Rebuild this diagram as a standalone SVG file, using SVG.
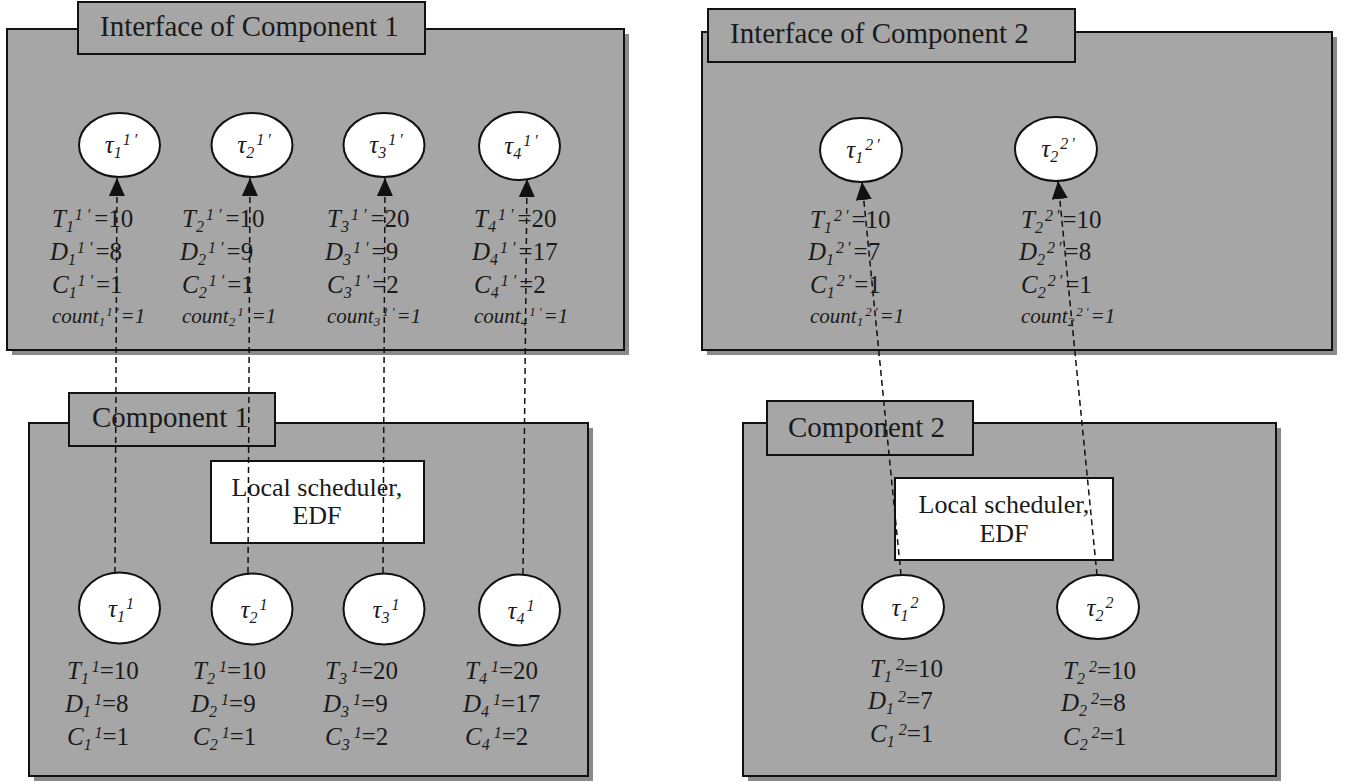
<svg xmlns="http://www.w3.org/2000/svg" width="1350" height="782" viewBox="0 0 1350 782">
<style>
.shadow{fill:#8a8a8a;}
.box{fill:#a6a6a6;stroke:#111;stroke-width:2;}
.tab{fill:#a6a6a6;stroke:#111;stroke-width:2;}
.sched{fill:#fff;stroke:#111;stroke-width:2;}
.task{fill:#fff;stroke:#111;stroke-width:2;}
.title{font-family:"Liberation Serif","Times New Roman",serif;font-size:29px;fill:#1a1a1a;}
.lbl{font-family:"Liberation Serif","Times New Roman",serif;font-size:25px;fill:#1a1a1a;}
.cnt{font-size:21px;font-style:italic;}
.tau{font-family:"Liberation Serif","Times New Roman",serif;font-size:25px;font-style:italic;fill:#1a1a1a;}
.it{font-style:italic;}
.sm{font-size:16px;}
.xs{font-size:13px;}
.sch{font-family:"Liberation Serif","Times New Roman",serif;font-size:26px;fill:#1a1a1a;text-anchor:middle;}
.conn{fill:none;stroke:#111;stroke-width:1.5;stroke-dasharray:6 4;}
</style>
<defs>
<marker id="arr" markerUnits="userSpaceOnUse" markerWidth="18" markerHeight="16" refX="18" refY="8" orient="auto">
<path d="M0,0 L18,8 L0,16 Z" fill="#111"/>
</marker>
</defs>

<!-- Interface of Component 1 -->
<g id="iface1">
<rect class="shadow" x="12" y="34" width="617" height="321"/>
<rect class="box" x="7" y="29" width="617" height="321"/>
<rect class="tab" x="78" y="2" width="347" height="52"/>
<text class="title" x="100" y="36">Interface of Component 1</text>
</g>

<!-- Interface of Component 2 -->
<g id="iface2">
<rect class="shadow" x="707" y="37" width="630" height="318"/>
<rect class="box" x="702" y="32" width="630" height="318"/>
<rect class="tab" x="708" y="9" width="367" height="53"/>
<text class="title" x="730" y="43">Interface of Component 2</text>
</g>

<!-- Component 1 -->
<g id="comp1">
<rect class="shadow" x="34" y="428" width="559" height="353"/>
<rect class="box" x="29" y="423" width="559" height="353"/>
<rect class="tab" x="69" y="393" width="206" height="53"/>
<text class="title" x="92" y="427">Component 1</text>
</g>

<!-- Component 2 -->
<g id="comp2">
<rect class="shadow" x="748" y="428" width="533" height="353"/>
<rect class="box" x="743" y="423" width="533" height="353"/>
<rect class="tab" x="767" y="401" width="206" height="54"/>
<text class="title" x="788" y="437">Component 2</text>
</g>

<g id="sched1">
<rect class="sched" x="211" y="461" width="213" height="82"/>
<text class="sch" x="317" y="496">Local scheduler,</text>
<text class="sch" x="317" y="524">EDF</text>
</g>

<g id="sched2">
<rect class="sched" x="895" y="478" width="218" height="82"/>
<text class="sch" x="1004" y="513">Local scheduler,</text>
<text class="sch" x="1004" y="542">EDF</text>
</g>

<!-- Interface 1 tasks -->
<g id="iface1-task1">
<ellipse class="task" cx="119.5" cy="145" rx="40.5" ry="32"/>
<text class="tau" x="121" y="153" text-anchor="middle">τ<tspan class="sm" dy="5">1</tspan><tspan class="sm" dx="2" dy="-13">1</tspan><tspan class="sm" dx="3">′</tspan></text>
<text class="lbl" x="52" y="227"><tspan class="it">T</tspan><tspan class="it sm" dy="5">1</tspan><tspan class="it sm" dx="2" dy="-12">1</tspan><tspan class="it sm" dx="4">′</tspan><tspan dx="4" dy="7">=10</tspan></text>
<text class="lbl" x="50" y="260"><tspan class="it">D</tspan><tspan class="it sm" dy="5">1</tspan><tspan class="it sm" dx="2" dy="-12">1</tspan><tspan class="it sm" dx="4">′</tspan><tspan dx="3" dy="7">=8</tspan></text>
<text class="lbl" x="52" y="293"><tspan class="it">C</tspan><tspan class="it sm" dy="5">1</tspan><tspan class="it sm" dx="2" dy="-12">1</tspan><tspan class="it sm" dx="4">′</tspan><tspan dx="3" dy="7">=1</tspan></text>
<text class="lbl cnt" x="52" y="323">count<tspan class="xs" dy="3">1</tspan><tspan class="xs" dx="2" dy="-10">1</tspan><tspan class="xs" dx="3">′</tspan><tspan dx="2" dy="7">=1</tspan></text>
</g>

<g id="iface1-task2">
<ellipse class="task" cx="252" cy="145" rx="40.5" ry="32"/>
<text class="tau" x="254" y="153" text-anchor="middle">τ<tspan class="sm" dy="5">2</tspan><tspan class="sm" dx="2" dy="-13">1</tspan><tspan class="sm" dx="3">′</tspan></text>
<text class="lbl" x="182" y="227"><tspan class="it">T</tspan><tspan class="it sm" dy="5">2</tspan><tspan class="it sm" dx="2" dy="-12">1</tspan><tspan class="it sm" dx="4">′</tspan><tspan dx="4" dy="7">=10</tspan></text>
<text class="lbl" x="180" y="260"><tspan class="it">D</tspan><tspan class="it sm" dy="5">2</tspan><tspan class="it sm" dx="2" dy="-12">1</tspan><tspan class="it sm" dx="4">′</tspan><tspan dx="3" dy="7">=9</tspan></text>
<text class="lbl" x="182" y="293"><tspan class="it">C</tspan><tspan class="it sm" dy="5">2</tspan><tspan class="it sm" dx="2" dy="-12">1</tspan><tspan class="it sm" dx="4">′</tspan><tspan dx="3" dy="7">=1</tspan></text>
<text class="lbl cnt" x="182" y="323">count<tspan class="xs" dy="3">2</tspan><tspan class="xs" dx="2" dy="-10">1</tspan><tspan class="xs" dx="3">′</tspan><tspan dx="2" dy="7">=1</tspan></text>
</g>

<g id="iface1-task3">
<ellipse class="task" cx="384" cy="145" rx="40.5" ry="32"/>
<text class="tau" x="386" y="153" text-anchor="middle">τ<tspan class="sm" dy="5">3</tspan><tspan class="sm" dx="2" dy="-13">1</tspan><tspan class="sm" dx="3">′</tspan></text>
<text class="lbl" x="327" y="227"><tspan class="it">T</tspan><tspan class="it sm" dy="5">3</tspan><tspan class="it sm" dx="2" dy="-12">1</tspan><tspan class="it sm" dx="4">′</tspan><tspan dx="4" dy="7">=20</tspan></text>
<text class="lbl" x="325" y="260"><tspan class="it">D</tspan><tspan class="it sm" dy="5">3</tspan><tspan class="it sm" dx="2" dy="-12">1</tspan><tspan class="it sm" dx="4">′</tspan><tspan dx="3" dy="7">=9</tspan></text>
<text class="lbl" x="327" y="293"><tspan class="it">C</tspan><tspan class="it sm" dy="5">3</tspan><tspan class="it sm" dx="2" dy="-12">1</tspan><tspan class="it sm" dx="4">′</tspan><tspan dx="3" dy="7">=2</tspan></text>
<text class="lbl cnt" x="327" y="323">count<tspan class="xs" dy="3">3</tspan><tspan class="xs" dx="2" dy="-10">1</tspan><tspan class="xs" dx="3">′</tspan><tspan dx="2" dy="7">=1</tspan></text>
</g>

<g id="iface1-task4">
<ellipse class="task" cx="519.5" cy="146" rx="40.5" ry="34"/>
<text class="tau" x="521" y="154" text-anchor="middle">τ<tspan class="sm" dy="5">4</tspan><tspan class="sm" dx="2" dy="-13">1</tspan><tspan class="sm" dx="3">′</tspan></text>
<text class="lbl" x="474" y="227"><tspan class="it">T</tspan><tspan class="it sm" dy="5">4</tspan><tspan class="it sm" dx="2" dy="-12">1</tspan><tspan class="it sm" dx="4">′</tspan><tspan dx="4" dy="7">=20</tspan></text>
<text class="lbl" x="472" y="260"><tspan class="it">D</tspan><tspan class="it sm" dy="5">4</tspan><tspan class="it sm" dx="2" dy="-12">1</tspan><tspan class="it sm" dx="4">′</tspan><tspan dx="3" dy="7">=17</tspan></text>
<text class="lbl" x="474" y="293"><tspan class="it">C</tspan><tspan class="it sm" dy="5">4</tspan><tspan class="it sm" dx="2" dy="-12">1</tspan><tspan class="it sm" dx="4">′</tspan><tspan dx="3" dy="7">=2</tspan></text>
<text class="lbl cnt" x="474" y="323">count<tspan class="xs" dy="3">4</tspan><tspan class="xs" dx="2" dy="-10">1</tspan><tspan class="xs" dx="3">′</tspan><tspan dx="2" dy="7">=1</tspan></text>
</g>

<!-- Interface 2 tasks -->
<g id="iface2-task1">
<ellipse class="task" cx="861" cy="150" rx="41" ry="32"/>
<text class="tau" x="863" y="158" text-anchor="middle">τ<tspan class="sm" dy="5">1</tspan><tspan class="sm" dx="2" dy="-13">2</tspan><tspan class="sm" dx="3">′</tspan></text>
<text class="lbl" x="810" y="228"><tspan class="it">T</tspan><tspan class="it sm" dy="5">1</tspan><tspan class="it sm" dx="2" dy="-12">2</tspan><tspan class="it sm" dx="3">′</tspan><tspan dx="3" dy="7">=10</tspan></text>
<text class="lbl" x="808" y="260"><tspan class="it">D</tspan><tspan class="it sm" dy="5">1</tspan><tspan class="it sm" dx="2" dy="-12">2</tspan><tspan class="it sm" dx="3">′</tspan><tspan dx="3" dy="7">=7</tspan></text>
<text class="lbl" x="810" y="293"><tspan class="it">C</tspan><tspan class="it sm" dy="5">1</tspan><tspan class="it sm" dx="2" dy="-12">2</tspan><tspan class="it sm" dx="3">′</tspan><tspan dx="3" dy="7">=1</tspan></text>
<text class="lbl cnt" x="810" y="323">count<tspan class="xs" dy="3">1</tspan><tspan class="xs" dx="2" dy="-10">2</tspan><tspan class="xs" dx="3">′</tspan><tspan dx="2" dy="7">=1</tspan></text>
</g>

<g id="iface2-task2">
<ellipse class="task" cx="1056" cy="149" rx="41" ry="32"/>
<text class="tau" x="1058" y="157" text-anchor="middle">τ<tspan class="sm" dy="5">2</tspan><tspan class="sm" dx="2" dy="-13">2</tspan><tspan class="sm" dx="3">′</tspan></text>
<text class="lbl" x="1021" y="228"><tspan class="it">T</tspan><tspan class="it sm" dy="5">2</tspan><tspan class="it sm" dx="2" dy="-12">2</tspan><tspan class="it sm" dx="3">′</tspan><tspan dx="3" dy="7">=10</tspan></text>
<text class="lbl" x="1019" y="260"><tspan class="it">D</tspan><tspan class="it sm" dy="5">2</tspan><tspan class="it sm" dx="2" dy="-12">2</tspan><tspan class="it sm" dx="3">′</tspan><tspan dx="3" dy="7">=8</tspan></text>
<text class="lbl" x="1021" y="293"><tspan class="it">C</tspan><tspan class="it sm" dy="5">2</tspan><tspan class="it sm" dx="2" dy="-12">2</tspan><tspan class="it sm" dx="3">′</tspan><tspan dx="3" dy="7">=1</tspan></text>
<text class="lbl cnt" x="1021" y="323">count<tspan class="xs" dy="3">2</tspan><tspan class="xs" dx="2" dy="-10">2</tspan><tspan class="xs" dx="3">′</tspan><tspan dx="2" dy="7">=1</tspan></text>
</g>

<!-- Component 1 tasks -->
<g id="comp1-task1">
<ellipse class="task" cx="119.5" cy="608" rx="40.5" ry="35.5"/>
<text class="tau" x="121" y="617" text-anchor="middle">τ<tspan class="sm" dy="5">1</tspan><tspan class="sm" dx="2" dy="-13">1</tspan></text>
<text class="lbl" x="67" y="679"><tspan class="it">T</tspan><tspan class="it sm" dy="5">1</tspan><tspan class="it sm" dx="4" dy="-12">1</tspan><tspan dy="7">=10</tspan></text>
<text class="lbl" x="65" y="712"><tspan class="it">D</tspan><tspan class="it sm" dy="5">1</tspan><tspan class="it sm" dx="4" dy="-12">1</tspan><tspan dy="7">=8</tspan></text>
<text class="lbl" x="67" y="745"><tspan class="it">C</tspan><tspan class="it sm" dy="5">1</tspan><tspan class="it sm" dx="4" dy="-12">1</tspan><tspan dy="7">=1</tspan></text>
</g>

<g id="comp1-task2">
<ellipse class="task" cx="252" cy="609" rx="40.5" ry="35.5"/>
<text class="tau" x="254" y="618" text-anchor="middle">τ<tspan class="sm" dy="5">2</tspan><tspan class="sm" dx="2" dy="-13">1</tspan></text>
<text class="lbl" x="193" y="679"><tspan class="it">T</tspan><tspan class="it sm" dy="5">2</tspan><tspan class="it sm" dx="4" dy="-12">1</tspan><tspan dy="7">=10</tspan></text>
<text class="lbl" x="191" y="712"><tspan class="it">D</tspan><tspan class="it sm" dy="5">2</tspan><tspan class="it sm" dx="4" dy="-12">1</tspan><tspan dy="7">=9</tspan></text>
<text class="lbl" x="193" y="745"><tspan class="it">C</tspan><tspan class="it sm" dy="5">2</tspan><tspan class="it sm" dx="4" dy="-12">1</tspan><tspan dy="7">=1</tspan></text>
</g>

<g id="comp1-task3">
<ellipse class="task" cx="384" cy="609" rx="40.5" ry="35.5"/>
<text class="tau" x="386" y="618" text-anchor="middle">τ<tspan class="sm" dy="5">3</tspan><tspan class="sm" dx="2" dy="-13">1</tspan></text>
<text class="lbl" x="325" y="679"><tspan class="it">T</tspan><tspan class="it sm" dy="5">3</tspan><tspan class="it sm" dx="4" dy="-12">1</tspan><tspan dy="7">=20</tspan></text>
<text class="lbl" x="323" y="712"><tspan class="it">D</tspan><tspan class="it sm" dy="5">3</tspan><tspan class="it sm" dx="4" dy="-12">1</tspan><tspan dy="7">=9</tspan></text>
<text class="lbl" x="325" y="745"><tspan class="it">C</tspan><tspan class="it sm" dy="5">3</tspan><tspan class="it sm" dx="4" dy="-12">1</tspan><tspan dy="7">=2</tspan></text>
</g>

<g id="comp1-task4">
<ellipse class="task" cx="519.5" cy="610" rx="40.5" ry="35.5"/>
<text class="tau" x="521" y="619" text-anchor="middle">τ<tspan class="sm" dy="5">4</tspan><tspan class="sm" dx="2" dy="-13">1</tspan></text>
<text class="lbl" x="465" y="679"><tspan class="it">T</tspan><tspan class="it sm" dy="5">4</tspan><tspan class="it sm" dx="4" dy="-12">1</tspan><tspan dy="7">=20</tspan></text>
<text class="lbl" x="463" y="712"><tspan class="it">D</tspan><tspan class="it sm" dy="5">4</tspan><tspan class="it sm" dx="4" dy="-12">1</tspan><tspan dy="7">=17</tspan></text>
<text class="lbl" x="465" y="745"><tspan class="it">C</tspan><tspan class="it sm" dy="5">4</tspan><tspan class="it sm" dx="4" dy="-12">1</tspan><tspan dy="7">=2</tspan></text>
</g>

<!-- Component 2 tasks -->
<g id="comp2-task1">
<ellipse class="task" cx="903" cy="607" rx="41" ry="32"/>
<text class="tau" x="905" y="616" text-anchor="middle">τ<tspan class="sm" dy="5">1</tspan><tspan class="sm" dx="2" dy="-13">2</tspan></text>
<text class="lbl" x="870" y="677"><tspan class="it">T</tspan><tspan class="it sm" dy="5">1</tspan><tspan class="it sm" dx="4" dy="-12">2</tspan><tspan dy="7">=10</tspan></text>
<text class="lbl" x="868" y="709"><tspan class="it">D</tspan><tspan class="it sm" dy="5">1</tspan><tspan class="it sm" dx="4" dy="-12">2</tspan><tspan dy="7">=7</tspan></text>
<text class="lbl" x="870" y="742"><tspan class="it">C</tspan><tspan class="it sm" dy="5">1</tspan><tspan class="it sm" dx="4" dy="-12">2</tspan><tspan dy="7">=1</tspan></text>
</g>

<g id="comp2-task2">
<ellipse class="task" cx="1098" cy="607" rx="41" ry="32"/>
<text class="tau" x="1100" y="616" text-anchor="middle">τ<tspan class="sm" dy="5">2</tspan><tspan class="sm" dx="2" dy="-13">2</tspan></text>
<text class="lbl" x="1063" y="679"><tspan class="it">T</tspan><tspan class="it sm" dy="5">2</tspan><tspan class="it sm" dx="4" dy="-12">2</tspan><tspan dy="7">=10</tspan></text>
<text class="lbl" x="1061" y="711"><tspan class="it">D</tspan><tspan class="it sm" dy="5">2</tspan><tspan class="it sm" dx="4" dy="-12">2</tspan><tspan dy="7">=8</tspan></text>
<text class="lbl" x="1063" y="745"><tspan class="it">C</tspan><tspan class="it sm" dy="5">2</tspan><tspan class="it sm" dx="4" dy="-12">2</tspan><tspan dy="7">=1</tspan></text>
</g>

<!-- Connectors -->
<g id="connectors">
<path class="conn" d="M115,573 L117,178" marker-end="url(#arr)"/>
<path class="conn" d="M248,573 L250,178" marker-end="url(#arr)"/>
<path class="conn" d="M383,573 L385,178" marker-end="url(#arr)"/>
<path class="conn" d="M523,574 L527,179" marker-end="url(#arr)"/>
<path class="conn" d="M901,575 L862,182" marker-end="url(#arr)"/>
<path class="conn" d="M1097,575 L1058,181" marker-end="url(#arr)"/>
</g>
</svg>
